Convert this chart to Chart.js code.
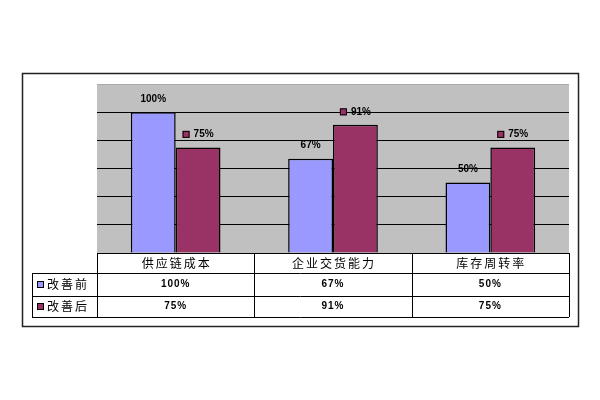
<!DOCTYPE html>
<html><head><meta charset="utf-8">
<script src="https://cdn.jsdelivr.net/npm/chart.js@4/dist/chart.umd.min.js"></script>
<style>html,body{margin:0;padding:0;background:#fff;}canvas{display:block;}</style>
</head><body>
<canvas id="c" width="600" height="400" style="width:600px;height:400px"></canvas>
<script>
const categories = ['供应链成本', '企业交货能力', '库存周转率'];
const seriesNames = ['改善前', '改善后'];
const beforeValues = [100, 67, 50];
const afterValues = [75, 91, 75];
const yMin = 0, yMax = 120, yStep = 20;
const colors = ['#9999FF', '#993366'];

const fmt = v => v + '%';
const CJK = '"Noto Sans CJK SC", sans-serif';
const NUM = 'bold 10px "Liberation Sans", Arial, sans-serif';

const bgPlugin = {
  id: 'bg',
  beforeDraw(chart) {
    const {ctx, chartArea: a} = chart;
    ctx.save();
    ctx.fillStyle = '#fff';
    ctx.fillRect(0, 0, chart.width, chart.height);
    ctx.fillStyle = '#C0C0C0';
    ctx.fillRect(a.left, a.top, a.right - a.left, a.bottom - a.top);
    ctx.restore();
  }
};

const labelPlugin = {
  id: 'labels',
  afterDatasetsDraw(chart) {
    const ctx = chart.ctx;
    ctx.save();
    ctx.font = NUM;
    ctx.textBaseline = 'middle';
    chart.data.datasets.forEach((ds, di) => {
      const meta = chart.getDatasetMeta(di);
      meta.data.forEach((bar, i) => {
        const txt = fmt(ds.data[i]);
        const y = bar.y - 13;
        ctx.fillStyle = '#000';
        if (di === 0) {
          ctx.textAlign = 'center';
          ctx.fillText(txt, bar.x, y);
        } else {
          const tw = ctx.measureText(txt).width;
          const total = 7 + 4 + tw;
          const x0 = bar.x - total / 2;
          ctx.fillStyle = colors[1];
          ctx.fillRect(x0, y - 3.5, 7, 7);
          ctx.strokeStyle = '#000';
          ctx.lineWidth = 1;
          ctx.strokeRect(x0 + 0.5, y - 3.5 + 0.5, 6, 6);
          ctx.fillStyle = '#000';
          ctx.textAlign = 'left';
          ctx.fillText(txt, x0 + 11, y);
        }
      });
    });
    ctx.restore();
  }
};

const tablePlugin = {
  id: 'table',
  afterDraw(chart) {
    const {ctx, chartArea: a} = chart;
    const xs = chart.scales.x;
    const n = categories.length;
    const cw = (a.right - a.left) / n;
    const legendLeft = 32;
    const rowH = [a.bottom, a.bottom + 20, a.bottom + 43, a.bottom + 64];
    const bounds = [];
    for (let i = 0; i < n; i++) bounds.push(xs.getPixelForValue(i) - cw / 2);
    bounds.push(a.right);
    ctx.save();
    ctx.strokeStyle = '#000';
    ctx.lineWidth = 1;
    ctx.beginPath();
    ctx.moveTo(a.left, rowH[0] + 0.5); ctx.lineTo(a.right, rowH[0] + 0.5);
    for (let r = 1; r < 4; r++) { ctx.moveTo(legendLeft, rowH[r] + 0.5); ctx.lineTo(a.right, rowH[r] + 0.5); }
    bounds.forEach(x => { ctx.moveTo(Math.round(x) + 0.5, rowH[0]); ctx.lineTo(Math.round(x) + 0.5, rowH[3]); });
    ctx.moveTo(legendLeft + 0.5, rowH[1]); ctx.lineTo(legendLeft + 0.5, rowH[3]);
    ctx.stroke();

    ctx.fillStyle = '#000';
    ctx.textBaseline = 'middle';
    ctx.textAlign = 'center';
    ctx.font = '12px ' + CJK;
    ctx.letterSpacing = '2px';
    categories.forEach((c, i) => ctx.fillText(c, xs.getPixelForValue(i) + 1, (rowH[0] + rowH[1]) / 2));
    const series = [beforeValues, afterValues];
    series.forEach((vals, s) => {
      const cy = (rowH[s + 1] + rowH[s + 2]) / 2;
      ctx.letterSpacing = '1px';
      ctx.font = NUM;
      ctx.textAlign = 'center';
      vals.forEach((v, i) => ctx.fillText(fmt(v), xs.getPixelForValue(i), cy));
      ctx.fillStyle = colors[s];
      ctx.fillRect(legendLeft + 5, cy - 3.5, 7, 7);
      ctx.strokeRect(legendLeft + 5.5, cy - 3, 6, 6);
      ctx.fillStyle = '#000';
      ctx.font = '12px ' + CJK;
      ctx.letterSpacing = '2px';
      ctx.textAlign = 'left';
      ctx.fillText(seriesNames[s], legendLeft + 15, cy);
    });
    ctx.letterSpacing = '0px';
    ctx.strokeStyle = '#222';
    ctx.lineWidth = 1.5;
    ctx.strokeRect(22.5, 73.5, 556, 253);
    ctx.restore();
  }
};

new Chart(document.getElementById('c'), {
  type: 'bar',
  data: {
    labels: categories,
    datasets: [
      { label: seriesNames[0], data: beforeValues, backgroundColor: colors[0], borderColor: '#000', borderWidth: 1.5, categoryPercentage: 0.57, barPercentage: 1 },
      { label: seriesNames[1], data: afterValues, backgroundColor: colors[1], borderColor: '#000', borderWidth: 1.5, categoryPercentage: 0.57, barPercentage: 1 }
    ]
  },
  options: {
    responsive: false,
    animation: false,
    devicePixelRatio: 1,
    layout: { padding: { left: 97, right: 31, top: 84, bottom: 147 } },
    plugins: { legend: { display: false }, tooltip: { enabled: false } },
    scales: {
      x: { display: false },
      y: {
        min: yMin, max: yMax,
        ticks: { display: false, stepSize: yStep },
        border: { display: false },
        grid: {
          drawTicks: false,
          color: ctx => ctx.tick.value === yMax ? '#a8a8a8' : (ctx.tick.value === yMin ? 'rgba(0,0,0,0)' : '#000'),
          lineWidth: 1
        },
        afterFit: s => { s.width = 0; }
      }
    }
  },
  plugins: [bgPlugin, labelPlugin, tablePlugin]
});
</script>
</body></html>
